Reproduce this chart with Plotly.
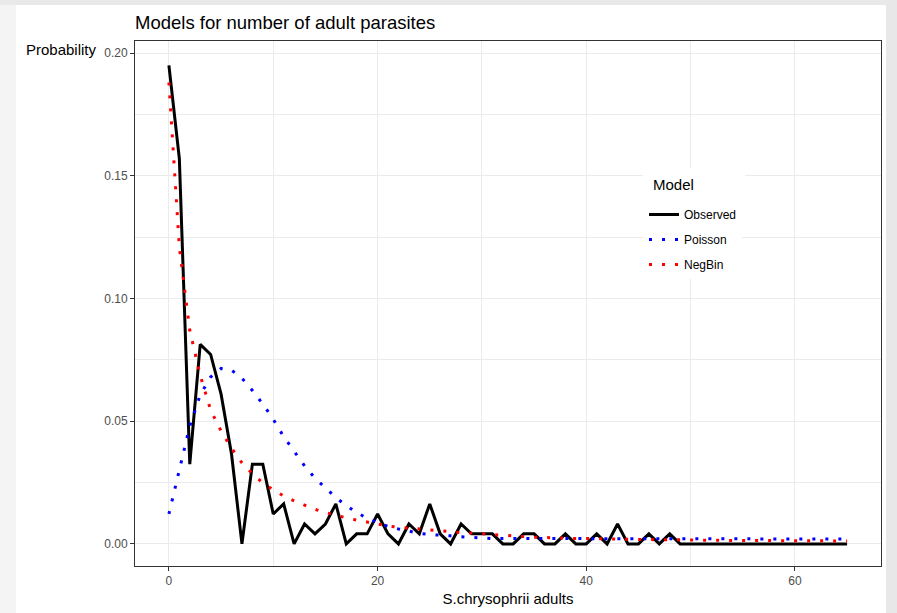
import plotly.graph_objects as go

# ---------------- data ----------------
x_values = list(range(0, 66))

observed = [
    0.195, 0.157, 0.0325, 0.0813, 0.0772, 0.061, 0.0366, 0.0, 0.0325, 0.0325,
    0.0122, 0.0163, 0.0, 0.0081, 0.0041, 0.0081, 0.0163, 0.0, 0.0041, 0.0041,
    0.0122, 0.0041, 0.0, 0.0081, 0.0041, 0.0163, 0.0041, 0.0, 0.0081, 0.0041,
    0.0041, 0.0041, 0.0, 0.0, 0.0041, 0.0041, 0.0, 0.0, 0.0041, 0.0,
    0.0, 0.0041, 0.0, 0.0081, 0.0, 0.0, 0.0041, 0.0, 0.0041, 0.0,
    0.0, 0.0, 0.0, 0.0, 0.0, 0.0, 0.0, 0.0, 0.0, 0.0,
    0.0, 0.0, 0.0, 0.0, 0.0, 0.0,
]

poisson = [
    0.0122, 0.030, 0.048, 0.0607, 0.068, 0.0715, 0.0708, 0.0675, 0.0625, 0.057,
    0.0508, 0.0437, 0.0377, 0.0318, 0.0268, 0.0228, 0.0189, 0.0156, 0.0128, 0.0104,
    0.0086, 0.0071, 0.0061, 0.0051, 0.0043, 0.0038, 0.0034, 0.0033, 0.0029, 0.0026,
    0.0023, 0.0022, 0.0022, 0.0022, 0.0022, 0.0022, 0.0022, 0.0022, 0.0022, 0.0022,
    0.0022, 0.0021, 0.0021, 0.0021, 0.0021, 0.0021, 0.0021, 0.0021, 0.0021, 0.0021,
    0.0021, 0.0021, 0.0021, 0.0020, 0.0020, 0.0020, 0.0020, 0.0020, 0.0020, 0.0020,
    0.0020, 0.0020, 0.0020, 0.0020, 0.0020, 0.0020,
]

negbin = [
    0.188, 0.121, 0.087, 0.0687, 0.0545, 0.046, 0.039, 0.033, 0.0286, 0.0249,
    0.022, 0.0195, 0.0175, 0.0157, 0.0141, 0.0128, 0.0116, 0.0106, 0.0097, 0.0088,
    0.008, 0.0073, 0.0068, 0.0064, 0.006, 0.0056, 0.0052, 0.0048, 0.0046, 0.0044,
    0.0041, 0.0038, 0.0036, 0.0032, 0.003, 0.0027, 0.0026, 0.0024, 0.0023, 0.0022,
    0.0022, 0.0021, 0.0020, 0.0020, 0.0019, 0.0018, 0.0018, 0.0017, 0.0017, 0.0016,
    0.0016, 0.0015, 0.0015, 0.0015, 0.0014, 0.0014, 0.0014, 0.0013, 0.0013, 0.0013,
    0.0013, 0.0012, 0.0012, 0.0012, 0.0012, 0.0012,
]

series_names = ["Observed", "Poisson", "NegBin"]
x_ticks = [0, 20, 40, 60]
y_ticks = [0.00, 0.05, 0.10, 0.15, 0.20]

# ---------------- figure ----------------
W, H = 897, 613
L, R, T, B = 135, 16, 41, 47
pw, ph = W - L - R, H - T - B

def px_x(p):
    return (p - L) / pw

def px_y(p):
    return 1 - (p - T) / ph

fig = go.Figure()

fig.add_trace(go.Scatter(
    x=x_values, y=observed, mode="lines", name=series_names[0],
    line=dict(color="black", width=3), legendgroup="a",
))
fig.add_trace(go.Scatter(
    x=x_values, y=poisson, mode="lines", name=series_names[1],
    line=dict(color="#0000FF", width=3, dash="3px,10px"), legendgroup="b",
))
fig.add_trace(go.Scatter(
    x=x_values, y=negbin, mode="lines", name=series_names[2],
    line=dict(color="#FF0000", width=3, dash="3px,10px"), legendgroup="c",
))

font_family = "Liberation Sans, Arial, sans-serif"
grid = "#EBEBEB"

fig.update_layout(
    width=W, height=H,
    margin=dict(l=L, r=R, t=T, b=B, autoexpand=False),
    paper_bgcolor="white",
    plot_bgcolor="white",
    font=dict(family=font_family, color="#4D4D4D", size=12),
    title=dict(
        text="Models for number of adult parasites",
        x=px_x(135), xref="paper", xanchor="left",
        y=1 - 23 / H, yref="container", yanchor="middle",
        font=dict(size=18.5, color="black", family=font_family),
    ),
    legend=dict(
        x=px_x(644), y=px_y(200), xanchor="left", yanchor="top",
        bgcolor="white", borderwidth=0,
        font=dict(size=12, color="black"),
        tracegroupgap=6,
    ),
    showlegend=True,
)

fig.update_xaxes(
    range=[-3.25, 68.25],
    tickvals=x_ticks,
    ticktext=[str(v) for v in x_ticks],
    showgrid=True, gridcolor=grid, gridwidth=1.1,
    minor=dict(showgrid=True, gridcolor=grid, gridwidth=0.6, tickvals=[10, 30, 50]),
    zeroline=False,
    showline=True, linecolor="#333333", linewidth=1, mirror=True,
    ticks="outside", ticklen=4, tickcolor="#333333", tickwidth=1,
    tickfont=dict(size=12, color="#4D4D4D"),
    title=dict(text="S.chrysophrii adults", font=dict(size=15, color="black"), standoff=6),
    automargin=False,
)
fig.update_yaxes(
    range=[-0.0090, 0.2049],
    tickvals=y_ticks,
    ticktext=["%.2f" % v for v in y_ticks],
    showgrid=True, gridcolor=grid, gridwidth=1.1,
    minor=dict(showgrid=True, gridcolor=grid, gridwidth=0.6,
               tickvals=[0.025, 0.075, 0.125, 0.175]),
    zeroline=False,
    showline=True, linecolor="#333333", linewidth=1, mirror=True,
    ticks="outside", ticklen=4, tickcolor="#333333", tickwidth=1,
    tickfont=dict(size=12, color="#4D4D4D"),
    automargin=False,
)

fig.add_annotation(
    text="Probability", xref="paper", yref="paper",
    x=px_x(99), y=px_y(50), xanchor="right", yanchor="middle",
    showarrow=False, font=dict(size=15, color="black", family=font_family),
)

# legend title, placed like the reference (white backdrop hides the grid)
fig.add_shape(type="rect", xref="paper", yref="paper",
              x0=px_x(643), x1=px_x(745), y0=px_y(200), y1=px_y(168),
              fillcolor="white", line=dict(width=0), layer="above")
fig.add_annotation(
    text="Model", xref="paper", yref="paper",
    x=px_x(651), y=px_y(184), xanchor="left", yanchor="middle",
    showarrow=False, font=dict(size=15, color="black", family=font_family),
)

# faint screenshot frame shading around the picture
for i, c in enumerate(["#dcdcdc", "#e4e4e4", "#ececec", "#f4f4f4"]):
    fig.add_shape(type="rect", xref="paper", yref="paper",
                  x0=px_x(0), x1=px_x(4 * (i + 1)), y0=px_y(H), y1=px_y(0),
                  fillcolor=c, line=dict(width=0), layer="below")
fig.add_shape(type="rect", xref="paper", yref="paper",
              x0=px_x(0), x1=px_x(W), y0=px_y(5), y1=px_y(0),
              fillcolor="#e9e9e9", line=dict(width=0), layer="below")
fig.add_shape(type="rect", xref="paper", yref="paper",
              x0=px_x(886), x1=px_x(W), y0=px_y(H), y1=px_y(0),
              fillcolor="#e8e8e8", line=dict(width=0), layer="below")

fig.write_html("out.html", config={"displayModeBar": False},
               post_script="document.body.style.margin='0';")
